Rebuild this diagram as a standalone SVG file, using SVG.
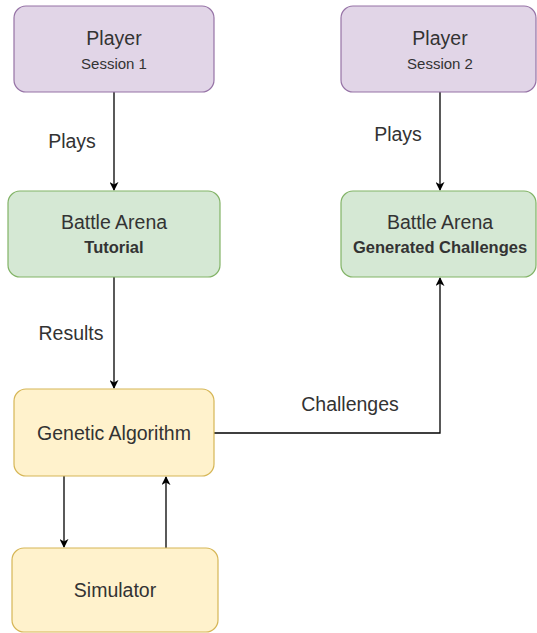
<svg xmlns="http://www.w3.org/2000/svg" width="537" height="633" viewBox="0 0 537 633">
<style>
text{font-family:"Liberation Sans",Arial,sans-serif;fill:#333;text-anchor:middle}
.t{font-size:19.5px}
.s{font-size:15px}
.b{font-size:16.5px;font-weight:bold}
.l{font-size:19.5px}
.p{fill:#e1d5e7;stroke:#9673a6;stroke-width:1.2}
.g{fill:#d5e8d4;stroke:#82b366;stroke-width:1.2}
.y{fill:#fff2cc;stroke:#d6b656;stroke-width:1.2}
.c{fill:none;stroke:#000;stroke-width:1.3}
</style>
<defs>
<marker id="a" viewBox="0 0 10 10" refX="9" refY="5" markerWidth="9" markerHeight="9" markerUnits="userSpaceOnUse" orient="auto"><path d="M0,0 L10,5 L0,10 L3,5 Z" fill="#000"/></marker>
</defs>
<rect width="537" height="633" fill="#fff"/>
<g id="connectors">
<path class="c" d="M114,92 V190" marker-end="url(#a)"/>
<path class="c" d="M114,277 V388" marker-end="url(#a)"/>
<path class="c" d="M64,476 V547" marker-end="url(#a)"/>
<path class="c" d="M166,548 V477" marker-end="url(#a)"/>
<path class="c" d="M213,433 H440 V278" marker-end="url(#a)"/>
<path class="c" d="M440,92 V190" marker-end="url(#a)"/>
<text class="l" x="72" y="148">Plays</text>
<text class="l" x="71" y="340">Results</text>
<text class="l" x="350" y="411">Challenges</text>
<text class="l" x="398" y="141">Plays</text>
</g>
<g id="player1">
<rect class="p" x="14" y="6" width="200" height="86" rx="12"/>
<text class="t" x="114" y="45">Player</text>
<text class="s" x="114" y="69">Session 1</text>
</g>
<g id="player2">
<rect class="p" x="341" y="6" width="195" height="86" rx="12"/>
<text class="t" x="440" y="45">Player</text>
<text class="s" x="440" y="69">Session 2</text>
</g>
<g id="arena1">
<rect class="g" x="8" y="191" width="212" height="86" rx="12"/>
<text class="t" x="114" y="229">Battle Arena</text>
<text class="b" x="114" y="253">Tutorial</text>
</g>
<g id="arena2">
<rect class="g" x="341" y="191" width="195" height="86" rx="12"/>
<text class="t" x="440" y="229">Battle Arena</text>
<text class="b" x="440" y="253">Generated Challenges</text>
</g>
<g id="ga">
<rect class="y" x="14" y="389" width="200" height="87" rx="12"/>
<text class="t" x="114" y="440">Genetic Algorithm</text>
</g>
<g id="sim">
<rect class="y" x="12" y="548" width="206" height="84" rx="12"/>
<text class="t" x="115" y="597">Simulator</text>
</g>
</svg>
